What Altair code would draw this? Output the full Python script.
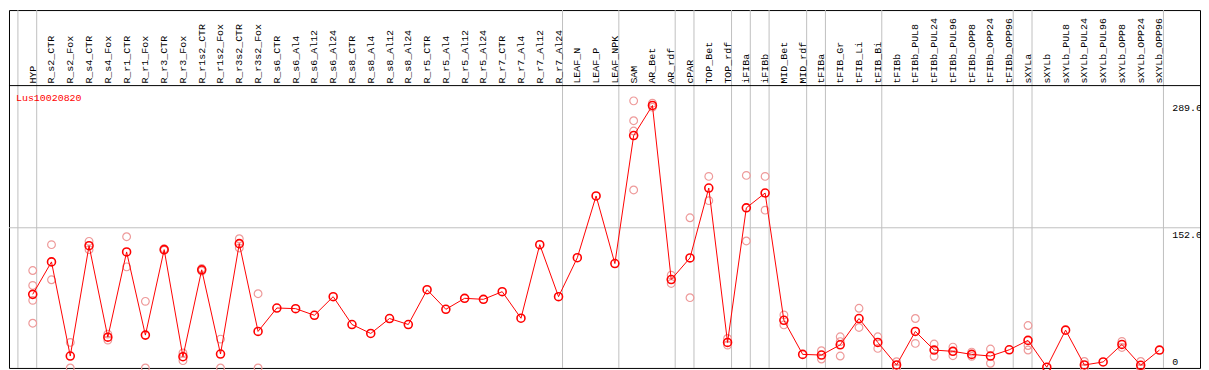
import altair as alt
import pandas as pd
import numpy as np

series_name = "Lus10020820"

categories = [
    "HYP", "R_s2_CTR", "R_s2_Fox", "R_s4_CTR", "R_s4_Fox", "R_r1_CTR", "R_r1_Fox",
    "R_r3_CTR", "R_r3_Fox", "R_r1s2_CTR", "R_r1s2_Fox", "R_r3s2_CTR", "R_r3s2_Fox",
    "R_s6_CTR", "R_s6_Al4", "R_s6_Al12", "R_s6_Al24", "R_s8_CTR", "R_s8_Al4",
    "R_s8_Al12", "R_s8_Al24", "R_r5_CTR", "R_r5_Al4", "R_r5_Al12", "R_r5_Al24",
    "R_r7_CTR", "R_r7_Al4", "R_r7_Al12", "R_r7_Al24", "LEAF_N", "LEAF_P", "LEAF_NPK",
    "SAM", "AR_Bet", "AR_rdf", "cPAR", "TOP_Bet", "TOP_rdf", "iFIBa", "iFIBb",
    "MID_Bet", "MID_rdf", "tFIBa", "tFIB_Gr", "tFIB_Li", "tFIB_Bi", "tFIBb",
    "tFIBb_PUL8", "tFIBb_PUL24", "tFIBb_PUL96", "tFIBb_OPP8", "tFIBb_OPP24",
    "tFIBb_OPP96", "sXYLa", "sXYLb", "sXYLb_PUL8", "sXYLb_PUL24", "sXYLb_PUL96",
    "sXYLb_OPP8", "sXYLb_OPP24", "sXYLb_OPP96",
]

means = [
    79.8, 115.0, 12.9, 132.6, 33.4, 125.8, 35.6, 128.3, 12.2, 106.4, 15.1, 134.8, 39.6,
    65.0, 64.3, 57.1, 77.3, 47.1, 37.4, 53.6, 47.1, 84.8, 63.6, 75.5, 74.4,
    82.7, 53.9, 133.7, 77.3, 119.5, 186.5, 113.2,
    252.0, 284.6, 95.9, 119.3, 195.1, 27.7, 173.6, 189.7,
    51.7, 14.7, 14.0, 25.1, 53.6, 27.7, 3.2,
    39.6, 19.4, 18.0, 14.7, 12.9, 19.7,
    29.9, 0.8, 41.0, 3.2, 6.5, 25.5, 2.9, 19.4,
]

replicates = [
    [105.6, 89.5, 73.3, 48.5], [133.7, 95.6], [27.7, 0.0], [137.3, 128.3], [36.7, 30.2],
    [142.3, 109.6], [72.2, 0.0], [129.4, 127.5], [16.2, 7.9], [107.8, 105.1],
    [31.3, 0.0], [140.1, 130.1], [80.5, 0.0],
    [], [], [], [], [], [], [], [], [], [], [], [], [], [], [], [], [], [], [],
    [289.6, 268.1, 256.9, 193.0], [287.1, 282.8], [100.6, 91.6], [162.8, 76.2],
    [207.7, 181.4], [32.0, 24.8], [208.8, 137.7], [207.7, 171.1],
    [57.5, 46.7], [], [18.7, 9.7], [33.8, 28.6, 12.9], [64.7, 43.9], [33.8, 21.2],
    [6.8, 0.0],
    [53.6, 26.6], [25.9, 12.6], [22.6, 13.3], [17.2, 12.6], [20.5, 5.1], [],
    [46.0, 24.3, 19.4], [], [], [7.0, 0.0], [], [28.8, 22.2], [7.0, 0.0], [],
]

group_sizes = [1, 28, 3, 3, 1, 2, 1, 1, 2, 1, 3, 7, 1, 7]

tick_values = [289.6, 152.0, 0.0]
tick_labels = ["289.6", "152.0", "0"]
grid_values = [152.0]

# ---- layout ----
W = 1198
H = 360
HEADER = 76
K = 141.0 / 152.0          # px per unit in the reference
Y_TOP = H / K
X_DOMAIN = [-24.0 / 19.0, 1181.0 / 19.0]
FONT = "Liberation Mono"

mean_df = pd.DataFrame({"idx": np.arange(len(categories)), "name": categories, "mean": means})
rep_rows = [{"idx": i, "value": v} for i, reps in enumerate(replicates) for v in reps]
rep_df = pd.DataFrame(rep_rows)
ends = list(np.cumsum(group_sizes) - 1)
bound_df = pd.DataFrame({"pos": [-1] + ends})
tick_df = pd.DataFrame({"value": tick_values, "label": tick_labels})
grid_df = pd.DataFrame({"value": grid_values})
title_df = pd.DataFrame({"t": [series_name]})

xs = alt.Scale(domain=X_DOMAIN, nice=False, zero=False)
ys = alt.Scale(domain=[0, Y_TOP], nice=False, zero=False)

vlines = alt.Chart(bound_df).mark_rule(color="#c0c0c0", strokeWidth=1, xOffset=4).encode(
    x=alt.X("pos:Q", scale=xs, axis=None),
    y=alt.value(0), y2=alt.value(H),
)

grid = alt.Chart(grid_df).mark_rule(color="#c0c0c0", strokeWidth=1).encode(
    y=alt.Y("value:Q", scale=ys, axis=None),
    x=alt.value(0), x2=alt.value(W),
)

sep = alt.Chart(title_df).mark_rule(color="black", strokeWidth=1).encode(
    y=alt.value(HEADER), x=alt.value(0), x2=alt.value(W),
)

reps_layer = alt.Chart(rep_df).mark_point(
    shape="circle", filled=False, color="#ee9a9a", size=60, strokeWidth=1.2, opacity=1
).encode(
    x=alt.X("idx:Q", scale=xs, axis=None),
    y=alt.Y("value:Q", scale=ys, axis=None),
)

line = alt.Chart(mean_df).mark_line(color="#ff0000", strokeWidth=1).encode(
    x=alt.X("idx:Q", scale=xs, axis=None),
    y=alt.Y("mean:Q", scale=ys, axis=None),
    order="idx:Q",
)

pts = alt.Chart(mean_df).mark_point(
    shape="circle", filled=False, color="#ff0000", size=64, strokeWidth=1.6, opacity=1
).encode(
    x=alt.X("idx:Q", scale=xs, axis=None),
    y=alt.Y("mean:Q", scale=ys, axis=None),
)

labels = alt.Chart(mean_df).mark_text(
    angle=270, align="left", baseline="alphabetic", dy=3,
    font=FONT, fontSize=10, color="black"
).encode(
    x=alt.X("idx:Q", scale=xs, axis=None),
    y=alt.value(HEADER - 2),
    text="name:N",
)

title = alt.Chart(title_df).mark_text(
    align="left", baseline="alphabetic", font=FONT, fontSize=10, color="#ff0000"
).encode(x=alt.value(7), y=alt.value(HEADER + 15), text="t:N")

ticks_top = alt.Chart(tick_df).transform_filter("datum.value > 0").mark_text(
    align="left", baseline="top", dy=2, font=FONT, fontSize=10, color="black"
).encode(
    x=alt.value(1170),
    y=alt.Y("value:Q", scale=ys, axis=None),
    text="label:N",
)

ticks_zero = alt.Chart(tick_df).transform_filter("datum.value == 0").mark_text(
    align="left", baseline="alphabetic", dy=-3, font=FONT, fontSize=10, color="black"
).encode(
    x=alt.value(1170),
    y=alt.Y("value:Q", scale=ys, axis=None),
    text="label:N",
)

chart = alt.layer(
    vlines, grid, sep, reps_layer, line, pts, labels, title, ticks_top, ticks_zero
).properties(
    width=W, height=H,
    autosize=alt.AutoSizeParams(type="none"),
    padding={"left": 1, "top": 1, "right": 1, "bottom": 1},
    background="white",
).configure_view(stroke="black", strokeWidth=1)

chart.save("out.html", embed_options={"renderer": "svg", "actions": False})
